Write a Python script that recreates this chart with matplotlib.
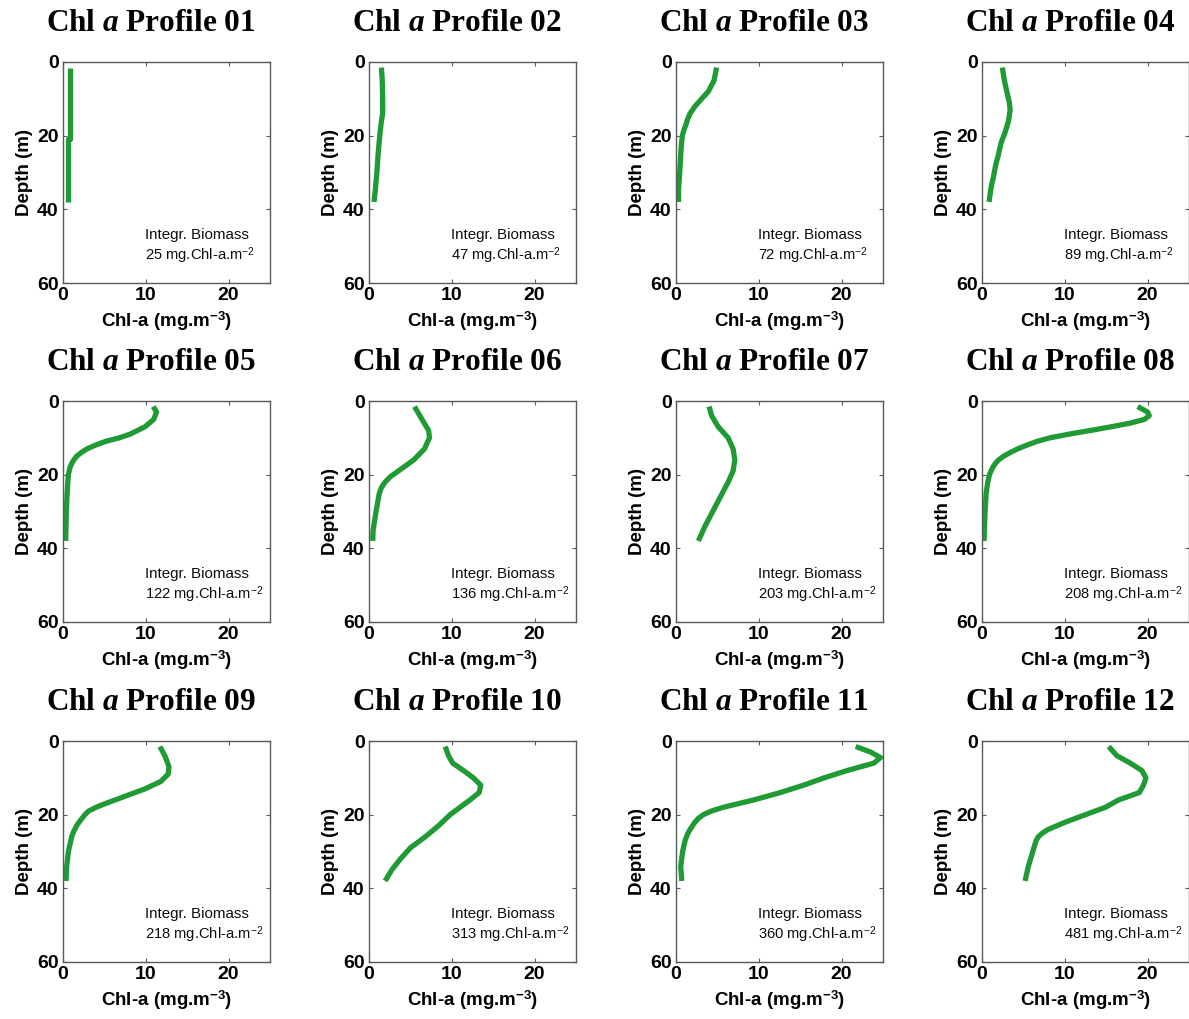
import matplotlib
matplotlib.use("Agg")
import matplotlib.pyplot as plt

plt.rcParams["font.family"] = ["Liberation Sans", "DejaVu Sans"]
plt.rcParams["mathtext.fontset"] = "custom"
plt.rcParams["mathtext.it"] = "Liberation Serif:italic:bold"

# Chlorophyll-a profiles: depth (m) and concentration (mg m^-3)
depth_01 = [1.5, 21, 21, 38]
chl_01 = [0.8, 0.8, 0.65, 0.65]

depth_02 = [1.5, 5, 10, 14, 16, 20, 25, 30, 35, 38]
chl_02 = [1.5, 1.6, 1.65, 1.65, 1.5, 1.3, 1.1, 0.95, 0.75, 0.6]

depth_03 = [1.5, 5, 8, 10, 12, 14, 15.5, 17, 18.5, 20, 22.5, 25, 30, 35, 38]
chl_03 = [4.9, 4.6, 3.9, 3.1, 2.3, 1.7, 1.4, 1.2, 0.95, 0.77, 0.65, 0.57, 0.45, 0.3, 0.3]

depth_04 = [1.5, 5, 8, 11, 13, 16, 19, 22, 25, 28, 31, 34, 38]
chl_04 = [2.46, 2.7, 3.0, 3.3, 3.4, 3.2, 2.8, 2.3, 2.0, 1.65, 1.4, 1.1, 0.85]

depth_05 = [1.5, 3, 5, 7, 9, 10, 11, 12, 13, 14, 15, 16, 17, 18, 20, 22, 25, 30, 38]
chl_05 = [10.9, 11.3, 10.95, 9.9, 8.1, 6.8, 5.1, 3.9, 2.9, 2.2, 1.65, 1.3, 1.05, 0.85,
          0.65, 0.58, 0.5, 0.4, 0.33]

depth_06 = [1.5, 5, 8, 10, 13, 16, 19, 20.5, 22, 23.5, 25, 30, 35, 38]
chl_06 = [5.5, 6.4, 7.2, 7.3, 6.7, 5.4, 3.55, 2.6, 1.95, 1.5, 1.25, 0.85, 0.5, 0.45]

depth_07 = [1.5, 4, 7, 10, 13, 16, 19, 22, 25, 28, 31, 34, 38]
chl_07 = [4.0, 4.3, 5.1, 6.3, 6.9, 7.1, 6.9, 6.3, 5.6, 4.9, 4.2, 3.5, 2.7]

depth_08 = [1.5, 3, 4, 5, 6, 7, 8, 9, 10, 11, 12, 13, 14, 15, 16, 17, 18, 20, 22, 25, 30, 38]
chl_08 = [18.8, 20.0, 20.2, 19.6, 17.9, 15.6, 13.1, 10.5, 8.2, 6.6, 5.4, 4.3, 3.4, 2.6,
          2.0, 1.6, 1.3, 0.9, 0.7, 0.5, 0.37, 0.25]

depth_09 = [1.5, 4, 7, 9, 11, 13, 15, 17, 18, 19, 20, 21, 22, 23, 24.5, 26, 30, 34, 38]
chl_09 = [11.7, 12.3, 12.8, 12.7, 11.8, 9.9, 7.5, 5.1, 4.0, 3.1, 2.65, 2.3, 1.95, 1.65,
          1.3, 1.05, 0.65, 0.45, 0.36]

depth_10 = [1.5, 4, 6, 8, 10, 12, 14, 16, 18, 20, 23, 26, 29, 32, 35, 38]
chl_10 = [9.2, 9.6, 10.1, 11.4, 12.6, 13.5, 13.3, 12.2, 11.0, 9.8, 8.4, 6.8, 5.0, 3.8, 2.75, 1.95]

depth_11 = [1.5, 3, 4.5, 6, 8, 10, 12, 14, 16, 18, 19, 20, 21, 22, 23, 24, 25.5, 27, 30, 34, 38]
chl_11 = [21.7, 23.5, 24.7, 23.9, 20.7, 17.9, 15.4, 12.6, 9.4, 5.7, 4.3, 3.3, 2.7, 2.3,
          2.0, 1.7, 1.35, 1.1, 0.8, 0.57, 0.7]

depth_12 = [1.5, 4, 6, 8, 10, 12, 14, 16, 18, 20, 22, 24, 25, 26, 27, 28, 31, 34, 38]
chl_12 = [15.3, 16.3, 17.9, 19.3, 19.8, 19.5, 19.0, 16.5, 14.9, 12.5, 10.1, 8.0, 7.3,
          6.8, 6.55, 6.4, 6.0, 5.6, 5.2]

profile_ids = ["01", "02", "03", "04", "05", "06", "07", "08", "09", "10", "11", "12"]
depths = [depth_01, depth_02, depth_03, depth_04, depth_05, depth_06,
          depth_07, depth_08, depth_09, depth_10, depth_11, depth_12]
chls = [chl_01, chl_02, chl_03, chl_04, chl_05, chl_06,
        chl_07, chl_08, chl_09, chl_10, chl_11, chl_12]
biomass = [25, 47, 72, 89, 122, 136, 203, 208, 218, 313, 360, 481]

x_ticks = [0, 10, 20]
y_ticks = [0, 20, 40, 60]

W, H = 1189, 1019
fig = plt.figure(figsize=(W / 100, H / 100), dpi=100)

col_left = [63, 369, 676, 982]
row_top = [62, 401, 741]
ax_w, ax_h = 207, 221
line_color = "#1f9a35"

for i, pid in enumerate(profile_ids):
    r, c = divmod(i, 4)
    left = col_left[c] / W
    bottom = 1 - (row_top[r] + ax_h) / H
    ax = fig.add_axes([left, bottom, ax_w / W, ax_h / H])
    ax.plot(chls[i], depths[i], color=line_color, lw=3.8,
            solid_capstyle="butt", solid_joinstyle="round")
    ax.set_xlim(0, 25)
    ax.set_ylim(60, 0)
    ax.set_xticks(x_ticks)
    ax.set_yticks(y_ticks)
    ax.tick_params(direction="in", length=3, width=0.8, top=True, right=True,
                   labelsize=14, color="0.35", pad=3)
    for lab in ax.get_xticklabels() + ax.get_yticklabels():
        lab.set_fontweight("bold")
    for sp in ax.spines.values():
        sp.set_color("0.35")
        sp.set_linewidth(1.0)
    ax.set_xlabel(r"Chl-a (mg.m$^{\mathregular{-3}}$)", fontsize=13.5,
                  fontweight="bold", labelpad=4)
    ax.set_ylabel("Depth (m)", fontsize=13.5, fontweight="bold", labelpad=3)
    ax.text(0.395, 0.215, "Integr. Biomass", transform=ax.transAxes,
            fontsize=10.9, va="center", ha="left", color="0.05")
    ax.text(0.395, 0.125, f"{biomass[i]} mg.Chl-a.m$^{{\\mathregular{{-2}}}}$",
            transform=ax.transAxes, fontsize=10.6, va="center", ha="left",
            color="0.05")
    fig.text((col_left[c] + 88) / W, 1 - (row_top[r] - 31) / H,
             f"Chl $\\mathit{{a}}$ Profile {pid}",
             family="Liberation Serif", fontweight="bold", fontsize=22.5,
             ha="center", va="baseline")

fig.savefig("out.png", dpi=100)
